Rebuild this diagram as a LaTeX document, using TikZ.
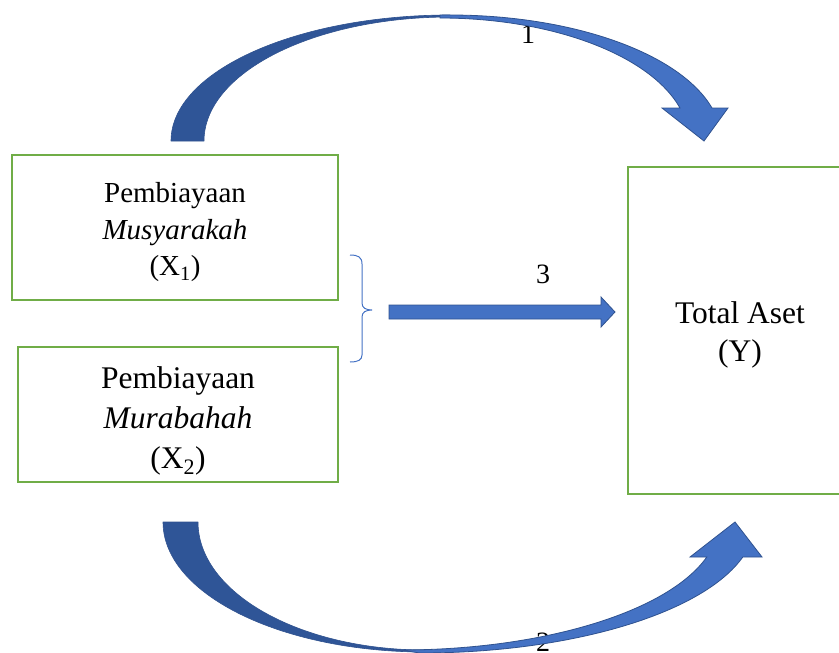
\documentclass[tikz,border=0pt]{standalone}
\usepackage{fontspec}
\setmainfont{Liberation Serif}
\definecolor{boxgreen}{HTML}{70AD47}
\definecolor{darkblue}{HTML}{2F5597}
\definecolor{lightblue}{HTML}{4472C4}
\definecolor{edgeblue}{HTML}{2F528F}
\tikzset{
  box/.style={draw=boxgreen, line width=2pt, rectangle, inner sep=0pt},
  boxtext/.style={align=center, inner sep=0pt},
  backband/.style={fill=darkblue, draw=edgeblue, line width=0.6pt, line join=round},
  frontband/.style={fill=lightblue, draw=edgeblue, line width=0.8pt, line join=miter},
  lbl/.style={inner sep=0pt, anchor=base, font=\fontsize{28}{34}\selectfont},
  bracestyle/.style={draw=lightblue, line width=1pt}
}
\begin{document}
\begin{tikzpicture}[x=1pt, y=-1pt]
\useasboundingbox (0,0) rectangle (839,653);
\clip (0,0) rectangle (839,653);

% boxes
\node[box, minimum width=326pt, minimum height=145pt] (x1) at (175,227.5) {};
\node[box, minimum width=320pt, minimum height=135pt] (x2) at (178,414.5) {};
\node[box, minimum width=224pt, minimum height=327pt] (y) at (740,330.5) {};

\node[boxtext, font=\fontsize{29}{36.5}\selectfont] (x1t) at (175,232.5)
  {Pembiayaan\\\textit{Musyarakah}\\(X\textsubscript{1})};
\node[boxtext, font=\fontsize{31.5}{40}\selectfont] (x2t) at (178,421)
  {Pembiayaan\\\textit{Murabahah}\\(X\textsubscript{2})};
\node[boxtext, font=\fontsize{31.5}{38}\selectfont] (yt) at (740,335)
  {Total Aset\\(Y)};

% labels (under the arrows)
\node[lbl] (l1) at (528,43) {1};
\node[lbl] (l2) at (543,651) {2};
\node[lbl] (l3) at (543,283) {3};

% top curved arrow (1)
\path[backband] (171,141) .. controls (171,71.4) and (296,15) .. (450,15)
  -- (450,17) .. controls (314.1,17) and (204,72.5) .. (204,141) -- cycle;
\path[frontband] (440,15) -- (450,15) .. controls (572.5,15) and (680,53.1) .. (712,108)
  -- (728,108) -- (704,141) -- (662,108) -- (680,108)
  .. controls (649.9,54.8) and (551.8,18) .. (440,18) -- cycle;

% bottom curved arrow (2)
\path[backband] (163,522) -- (198,522) .. controls (198,592.7) and (299.6,650) .. (425,650)
  -- (425,652) .. controls (280.3,652) and (163,593.8) .. (163,522) -- cycle;
\path[frontband] (420,653) .. controls (570.5,653) and (702.6,613.7) .. (742.8,557)
  -- (762,557) -- (735,522) -- (690,557) -- (706.8,557)
  .. controls (667.9,612) and (542.6,650) .. (400,650) -- cycle;

% brace
\coordinate (bt) at (350,255);
\coordinate (bb) at (350,362);
\coordinate (bp) at (372,310);
\draw[bracestyle] (bt) .. controls (358,255) and (362,257) .. (362,264) -- (362,303)
  .. controls (362,308) and (366,310) .. (bp)
  .. controls (366,310) and (362,312) .. (362,317) -- (362,355)
  .. controls (362,360) and (358,362) .. (bb);

% middle arrow (3)
\path[frontband] (389,305) -- (601,305) -- (601,297) -- (615,312) -- (601,327) -- (601,319) -- (389,319) -- cycle;
\end{tikzpicture}
\end{document}
